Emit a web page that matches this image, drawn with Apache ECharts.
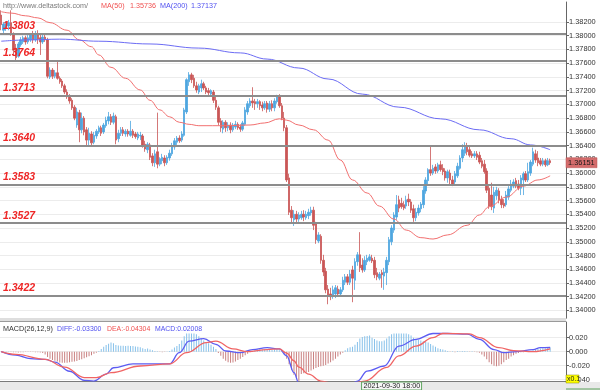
<!DOCTYPE html>
<html><head><meta charset="utf-8">
<script src="https://cdn.jsdelivr.net/npm/echarts@6/dist/echarts.min.js"></script>
<style>html,body{margin:0;padding:0;background:#fff}#c{width:600px;height:390px}</style>
</head><body><div id="c"></div><script>
// ---- data (hourly candles) : [open, close, low, high]
const candles = [
[1.3830,1.3816,1.3808,1.3837],[1.3808,1.3817,1.3804,1.3820],[1.3811,1.3817,1.3807,1.3821],[1.3814,1.3819,1.3808,1.3823],
[1.3819,1.3803,1.3800,1.3837],[1.3803,1.3779,1.3772,1.3805],[1.3782,1.3768,1.3762,1.3788],[1.3770,1.3788,1.3768,1.3791],
[1.3787,1.3794,1.3784,1.3798],[1.3791,1.3797,1.3788,1.3800],[1.3797,1.3791,1.3787,1.3800],[1.3791,1.3797,1.3788,1.3801],
[1.3794,1.3801,1.3791,1.3804],[1.3801,1.3794,1.3789,1.3807],[1.3794,1.3803,1.3791,1.3807],[1.3803,1.3795,1.3788,1.3808],
[1.3797,1.3791,1.3772,1.3801],[1.3791,1.3798,1.3788,1.3803],[1.3798,1.3794,1.3791,1.3803],[1.3794,1.3741,1.3738,1.3797],
[1.3740,1.3750,1.3737,1.3754],[1.3750,1.3741,1.3737,1.3753],[1.3741,1.3746,1.3738,1.3750],[1.3746,1.3738,1.3736,1.3762],
[1.3738,1.3733,1.3730,1.3741],[1.3734,1.3727,1.3724,1.3737],[1.3727,1.3718,1.3715,1.3730],[1.3718,1.3711,1.3708,1.3722],
[1.3712,1.3705,1.3701,1.3715],[1.3706,1.3695,1.3692,1.3709],[1.3696,1.3680,1.3677,1.3699],[1.3670,1.3689,1.3666,1.3695],
[1.3688,1.3663,1.3645,1.3692],[1.3663,1.3680,1.3658,1.3688],[1.3680,1.3660,1.3655,1.3683],[1.3663,1.3648,1.3638,1.3667],
[1.3648,1.3658,1.3641,1.3666],[1.3657,1.3644,1.3639,1.3661],[1.3645,1.3655,1.3642,1.3660],[1.3654,1.3661,1.3650,1.3664],
[1.3660,1.3666,1.3657,1.3669],[1.3666,1.3658,1.3654,1.3669],[1.3660,1.3670,1.3657,1.3673],[1.3669,1.3677,1.3666,1.3682],
[1.3676,1.3682,1.3671,1.3689],[1.3682,1.3674,1.3670,1.3686],[1.3674,1.3683,1.3671,1.3688],[1.3682,1.3648,1.3642,1.3685],
[1.3650,1.3658,1.3645,1.3663],[1.3658,1.3663,1.3654,1.3667],[1.3663,1.3658,1.3654,1.3667],[1.3657,1.3661,1.3653,1.3664],
[1.3661,1.3657,1.3653,1.3664],[1.3655,1.3661,1.3653,1.3676],[1.3661,1.3655,1.3651,1.3664],[1.3657,1.3653,1.3650,1.3660],
[1.3651,1.3657,1.3648,1.3660],[1.3654,1.3655,1.3648,1.3660],[1.3654,1.3641,1.3637,1.3657],[1.3642,1.3635,1.3631,1.3647],
[1.3634,1.3642,1.3629,1.3645],[1.3641,1.3623,1.3619,1.3644],[1.3625,1.3615,1.3610,1.3629],[1.3615,1.3628,1.3609,1.3634],
[1.3631,1.3613,1.3607,1.3688],[1.3613,1.3621,1.3610,1.3623],[1.3618,1.3623,1.3613,1.3628],[1.3622,1.3615,1.3610,1.3626],
[1.3615,1.3623,1.3612,1.3626],[1.3622,1.3629,1.3618,1.3634],[1.3628,1.3639,1.3625,1.3644],[1.3638,1.3647,1.3634,1.3651],
[1.3645,1.3651,1.3641,1.3654],[1.3651,1.3647,1.3644,1.3655],[1.3648,1.3657,1.3645,1.3661],[1.3655,1.3692,1.3653,1.3695],
[1.3689,1.3736,1.3686,1.3738],[1.3733,1.3743,1.3727,1.3747],[1.3743,1.3736,1.3731,1.3746],[1.3738,1.3727,1.3724,1.3743],
[1.3727,1.3721,1.3717,1.3733],[1.3718,1.3727,1.3715,1.3730],[1.3724,1.3730,1.3718,1.3736],[1.3730,1.3724,1.3721,1.3733],
[1.3724,1.3718,1.3715,1.3727],[1.3720,1.3717,1.3712,1.3724],[1.3715,1.3720,1.3712,1.3722],[1.3718,1.3706,1.3702,1.3721],
[1.3706,1.3696,1.3692,1.3711],[1.3695,1.3674,1.3669,1.3698],[1.3676,1.3666,1.3660,1.3680],[1.3664,1.3674,1.3658,1.3677],
[1.3674,1.3666,1.3660,1.3677],[1.3666,1.3670,1.3661,1.3674],[1.3670,1.3663,1.3658,1.3674],[1.3663,1.3670,1.3660,1.3673],
[1.3667,1.3671,1.3664,1.3676],[1.3671,1.3666,1.3663,1.3674],[1.3667,1.3664,1.3660,1.3671],[1.3664,1.3673,1.3661,1.3676],
[1.3671,1.3692,1.3669,1.3696],[1.3689,1.3701,1.3685,1.3705],[1.3698,1.3705,1.3695,1.3709],[1.3705,1.3702,1.3695,1.3725],
[1.3704,1.3701,1.3692,1.3708],[1.3701,1.3704,1.3695,1.3708],[1.3704,1.3698,1.3692,1.3706],[1.3699,1.3695,1.3690,1.3704],
[1.3695,1.3701,1.3692,1.3705],[1.3702,1.3693,1.3688,1.3705],[1.3693,1.3701,1.3689,1.3705],[1.3701,1.3695,1.3690,1.3706],
[1.3695,1.3705,1.3690,1.3709],[1.3704,1.3711,1.3701,1.3714],[1.3711,1.3698,1.3695,1.3715],[1.3698,1.3680,1.3677,1.3702],
[1.3680,1.3666,1.3661,1.3689],[1.3666,1.3590,1.3587,1.3670],[1.3593,1.3543,1.3539,1.3599],[1.3546,1.3535,1.3527,1.3552],
[1.3532,1.3540,1.3523,1.3546],[1.3540,1.3533,1.3526,1.3545],[1.3533,1.3539,1.3529,1.3543],[1.3535,1.3540,1.3532,1.3545],
[1.3540,1.3536,1.3530,1.3546],[1.3535,1.3540,1.3532,1.3545],[1.3538,1.3543,1.3533,1.3548],[1.3542,1.3546,1.3538,1.3551],
[1.3546,1.3524,1.3517,1.3551],[1.3526,1.3503,1.3497,1.3529],[1.3501,1.3510,1.3498,1.3514],[1.3508,1.3473,1.3468,1.3511],
[1.3473,1.3456,1.3450,1.3481],[1.3457,1.3430,1.3425,1.3462],[1.3431,1.3421,1.3409,1.3437],[1.3424,1.3420,1.3415,1.3433],
[1.3421,1.3430,1.3417,1.3436],[1.3424,1.3433,1.3418,1.3437],[1.3431,1.3424,1.3420,1.3436],[1.3424,1.3430,1.3420,1.3434],
[1.3430,1.3444,1.3427,1.3449],[1.3441,1.3449,1.3437,1.3453],[1.3449,1.3441,1.3437,1.3453],[1.3441,1.3453,1.3437,1.3459],
[1.3459,1.3447,1.3412,1.3465],[1.3444,1.3471,1.3430,1.3476],[1.3471,1.3481,1.3465,1.3485],[1.3481,1.3462,1.3456,1.3514],
[1.3466,1.3459,1.3455,1.3476],[1.3459,1.3473,1.3456,1.3479],[1.3471,1.3476,1.3466,1.3481],[1.3473,1.3478,1.3471,1.3482],
[1.3476,1.3472,1.3469,1.3481],[1.3473,1.3452,1.3447,1.3478],[1.3455,1.3449,1.3444,1.3462],[1.3447,1.3453,1.3444,1.3456],
[1.3455,1.3452,1.3433,1.3459],[1.3450,1.3456,1.3430,1.3462],[1.3455,1.3473,1.3437,1.3478],[1.3471,1.3503,1.3466,1.3507],
[1.3500,1.3520,1.3495,1.3524],[1.3517,1.3539,1.3513,1.3543],[1.3536,1.3554,1.3532,1.3568],[1.3561,1.3549,1.3543,1.3567],
[1.3556,1.3551,1.3548,1.3564],[1.3554,1.3549,1.3546,1.3559],[1.3552,1.3561,1.3548,1.3567],[1.3562,1.3558,1.3552,1.3570],
[1.3558,1.3546,1.3542,1.3562],[1.3548,1.3535,1.3529,1.3554],[1.3535,1.3543,1.3530,1.3549],[1.3542,1.3549,1.3538,1.3554],
[1.3548,1.3555,1.3543,1.3558],[1.3554,1.3575,1.3549,1.3581],[1.3574,1.3590,1.3570,1.3594],[1.3589,1.3605,1.3584,1.3607],
[1.3605,1.3600,1.3596,1.3638],[1.3600,1.3607,1.3597,1.3612],[1.3609,1.3603,1.3599,1.3613],[1.3603,1.3612,1.3600,1.3615],
[1.3612,1.3605,1.3602,1.3618],[1.3607,1.3602,1.3597,1.3613],[1.3603,1.3593,1.3589,1.3607],[1.3593,1.3602,1.3586,1.3605],
[1.3600,1.3590,1.3583,1.3605],[1.3590,1.3584,1.3581,1.3596],[1.3587,1.3599,1.3583,1.3603],[1.3596,1.3610,1.3593,1.3615],
[1.3607,1.3622,1.3605,1.3626],[1.3622,1.3634,1.3616,1.3642],[1.3629,1.3639,1.3625,1.3645],[1.3639,1.3631,1.3626,1.3644],
[1.3634,1.3626,1.3623,1.3638],[1.3628,1.3625,1.3622,1.3632],[1.3625,1.3628,1.3622,1.3632],[1.3628,1.3623,1.3619,1.3632],
[1.3626,1.3616,1.3613,1.3631],[1.3618,1.3610,1.3607,1.3622],[1.3613,1.3602,1.3599,1.3619],[1.3603,1.3575,1.3571,1.3607],
[1.3578,1.3552,1.3548,1.3583],[1.3568,1.3551,1.3546,1.3586],[1.3549,1.3572,1.3542,1.3580],[1.3567,1.3575,1.3561,1.3580],
[1.3574,1.3561,1.3556,1.3578],[1.3562,1.3554,1.3549,1.3567],[1.3556,1.3552,1.3549,1.3562],[1.3554,1.3568,1.3551,1.3574],
[1.3565,1.3577,1.3561,1.3581],[1.3575,1.3584,1.3572,1.3590],[1.3581,1.3587,1.3578,1.3591],[1.3589,1.3581,1.3578,1.3593],
[1.3584,1.3578,1.3575,1.3590],[1.3578,1.3593,1.3568,1.3597],[1.3590,1.3599,1.3568,1.3602],[1.3599,1.3590,1.3587,1.3603],
[1.3590,1.3602,1.3587,1.3615],[1.3600,1.3616,1.3596,1.3619],[1.3613,1.3631,1.3610,1.3637],[1.3628,1.3619,1.3615,1.3634],
[1.3622,1.3615,1.3610,1.3632],[1.3618,1.3613,1.3610,1.3622],[1.3613,1.3618,1.3610,1.3622],[1.3618,1.3612,1.3609,1.3621],
[1.3612,1.3618,1.3610,1.3622],[1.3618,1.36151,1.3612,1.3621]
];
// moving averages read at selected candles: [candle index, value]
const ma50Points = [[0,1.3835],[4,1.3833],[10,1.3829],[15,1.3826],[20,1.3819],[27,1.3808],[32,1.3794],[37,1.3784],[40,1.3772],[45,1.3754],[51,1.3738],[57,1.3721],[61,1.3706],[65,1.3692],[69,1.3682],[73,1.3674],[77,1.3671],[81,1.3669],[92,1.3669],[102,1.3670],[108,1.3673],[114,1.3679],[117,1.3677],[122,1.3670],[128,1.3663],[134,1.3648],[139,1.3619],[144,1.3590],[150,1.3571],[155,1.3552],[161,1.3533],[166,1.3517],[172,1.3506],[177,1.3504],[183,1.3510],[191,1.3524],[196,1.3539],[200,1.3551],[207,1.3565],[214,1.3581],[220,1.3590],[225,1.3596]];
const ma200Points = [[0,1.3792],[12,1.3794],[24,1.3795],[40,1.3792],[61,1.3788],[81,1.3782],[98,1.3775],[109,1.3766],[122,1.3753],[134,1.3737],[148,1.3715],[163,1.3696],[180,1.3679],[196,1.3663],[209,1.3650],[217,1.3641],[225,1.3634]];
// MACD histogram, one value per candle
const macdHist = [
0.0003,0.0002,0.0002,0.0001,-0.0005,-0.0008,-0.001,-0.0012,-0.001,-0.0008,-0.0006,-0.0005,-0.0005,-0.0006,-0.0008,-0.001,-0.0012,
-0.002,-0.004,-0.0075,-0.010,-0.012,-0.013,-0.014,-0.0155,-0.016,-0.0158,-0.0157,-0.015,-0.0145,-0.014,-0.0135,-0.012,-0.011,-0.0095,
-0.008,-0.0065,-0.005,-0.003,-0.0015,0.001,0.004,0.007,0.0095,0.0115,0.013,0.012,0.0095,0.009,0.0085,0.0085,0.008,0.0085,0.008,0.008,
0.0075,0.007,0.0065,0.005,0.004,0.0045,0.003,0.002,0.001,0.0005,-0.0005,-0.0008,-0.0005,0.0003,0.001,0.003,0.006,0.008,0.011,0.016,
0.022,0.026,0.026,0.026,0.026,0.025,0.022,0.019,0.016,0.014,0.012,0.010,0.007,0.004,-0.002,-0.006,-0.010,-0.013,-0.015,-0.016,-0.0155,
-0.014,-0.012,-0.010,-0.0075,-0.005,-0.003,-0.001,0.001,0.002,0.003,0.0035,0.003,0.003,0.0035,0.003,0.0025,0.003,0.003,0.002,0.0005,
-0.003,-0.010,-0.018,-0.026,-0.033,-0.038,-0.042,-0.032,-0.031,-0.030,-0.029,-0.027,-0.025,-0.0235,-0.022,-0.021,-0.020,-0.019,-0.017,
-0.015,-0.0125,-0.010,-0.007,-0.004,-0.0015,0.002,0.005,0.0065,0.007,0.010,0.014,0.019,0.021,0.022,0.0225,0.023,0.020,0.018,0.016,0.015,
0.015,0.016,0.019,0.022,0.025,0.026,0.026,0.026,0.026,0.026,0.026,0.025,0.023,0.020,0.018,0.017,0.016,0.015,0.014,0.013,0.011,0.009,
0.007,0.005,0.004,0.003,0.002,0.0008,-0.0005,0.0005,-0.0008,0.0008,0.0005,0.001,0.0008,0.0005,-0.0005,0.0005,-0.0005,-0.0008,-0.0015,
-0.004,-0.007,-0.011,-0.015,-0.018,-0.020,-0.021,-0.020,-0.018,-0.015,-0.012,-0.010,-0.007,-0.005,-0.003,-0.002,-0.001,-0.001,-0.0005,
0.0005,0.001,0.002,0.003,0.004,0.0045,0.005,0.005,0.0055,0.006
];
const diffPoints = [[0,0],[6,-0.005],[12,-0.010],[18,-0.011],[22,-0.015],[28,-0.028],[34,-0.041],[38,-0.042],[43,-0.032],[46,-0.023],[54,-0.0175],[64,-0.0175],[69,-0.0175],[73,-0.0015],[77,0.015],[83,0.0186],[88,0.0105],[92,0.001],[98,-0.0015],[103,0.003],[109,0.0057],[114,0.004],[117,-0.006],[120,-0.03],[122,-0.045],[126,-0.058],[134,-0.064],[141,-0.055],[146,-0.042],[150,-0.0277],[157,-0.0205],[163,0.008],[170,0.0176],[177,0.026],[183,0.026],[191,0.025],[196,0.0176],[202,0.003],[206,-0.0015],[211,0],[218,0.003],[221,0.0057],[225,0.006]];
const deaPoints = [[0,0],[6,-0.004],[18,-0.011],[26,-0.022],[34,-0.037],[39,-0.037],[45,-0.030],[57,-0.0205],[69,-0.0175],[76,-0.0015],[84,0.0128],[88,0.015],[95,0.004],[101,0],[109,0.003],[114,0.004],[117,-0.002],[120,-0.013],[122,-0.022],[126,-0.032],[131,-0.042],[140,-0.05],[149,-0.042],[158,-0.0225],[163,-0.006],[170,0.008],[177,0.020],[181,0.026],[192,0.0255],[196,0.020],[204,0.0057],[210,0.0015],[218,0],[225,0.004]];
const levels = [1.3803, 1.3764, 1.3713, 1.3640, 1.3583, 1.3527, 1.3422];
const priceTicks = [1.340,1.342,1.344,1.346,1.348,1.350,1.352,1.354,1.356,1.358,1.360,1.362,1.364,1.366,1.368,1.370,1.372,1.374,1.376,1.378,1.380,1.382];
const macdTicks = [-0.04,-0.02,0,0.02];
const lastPrice = 1.36151;
const timeLabel = '2021-09-30 18:00';
const timeLabelIndex = 160;
const slotCount = 232;
const headerTexts = { site: 'http://www.deltastock.com/', ma50: '1.35736', ma200: '1.37137' };
const macdTexts = { diff: '-0.03300', dea: '-0.04304', macd: '0.02008' };

const categories = Array.from({length: slotCount}, (_, i) => String(i));
const FONT = 'Liberation Sans, Arial, sans-serif';
const UP = '#4ea6df', DOWN = '#c95656';

const chart = echarts.init(document.getElementById('c'), null, {renderer: 'canvas'});
const option = {
  animation: false,
  backgroundColor: '#fff',
  grid: [
    {left: 0, right: 34, top: 2, height: 316},
    {left: 0, right: 34, top: 322, height: 59}
  ],
  xAxis: [
    {type: 'category', gridIndex: 0, data: categories, boundaryGap: true,
     axisLine: {show: true, lineStyle: {color: '#7a7a7a', width: 1}}, axisTick: {show: false}, axisLabel: {show: false}, splitLine: {show: false}},
    {type: 'category', gridIndex: 1, data: categories, boundaryGap: true,
     axisLine: {show: true, onZero: false, lineStyle: {color: '#7a7a7a', width: 1}}, axisTick: {show: false}, axisLabel: {show: false}, splitLine: {show: false}}
  ],
  yAxis: [
    {type: 'value', gridIndex: 0, position: 'right', min: 1.3389, max: 1.38491, scale: true,
     axisLine: {show: true, lineStyle: {color: '#666'}},
     axisTick: {show: true, length: 3, lineStyle: {color: '#666'}, customValues: priceTicks},
     axisLabel: {customValues: priceTicks, formatter: v => v.toFixed(5), fontSize: 7.4, color: '#333', margin: 3, fontFamily: FONT},
     splitLine: {show: true, lineStyle: {color: '#ececec', width: 1}}},
    {type: 'value', gridIndex: 1, position: 'right', min: -0.0419, max: 0.0424,
     axisLine: {show: true, lineStyle: {color: '#666'}},
     axisTick: {show: true, length: 3, lineStyle: {color: '#666'}, customValues: macdTicks},
     axisLabel: {customValues: macdTicks, formatter: v => v.toFixed(3), fontSize: 7.4, color: '#333', margin: 3, fontFamily: FONT},
     splitLine: {show: true, lineStyle: {color: '#ececec', width: 1}}}
  ],
  series: [
    {type: 'candlestick', xAxisIndex: 0, yAxisIndex: 0, data: candles, barWidth: 2,
     itemStyle: {color: UP, color0: DOWN, borderColor: UP, borderColor0: DOWN, borderWidth: 0.8},
     markLine: {silent: true, symbol: ['none', 'none'], animation: false, precision: 4,
       lineStyle: {color: '#8c8c8c', width: 2, type: 'solid'},
       label: {show: true, position: 'insideStartTop', distance: [3, 2], formatter: p => Number(p.value).toFixed(4),
         color: '#ee2626', fontStyle: 'italic', fontWeight: 'bold', fontSize: 10.5, fontFamily: FONT},
       data: levels.map(v => ({yAxis: v}))}},
    {type: 'line', name: 'MA50', xAxisIndex: 0, yAxisIndex: 0, data: ma50Points, smooth: 0.4, smoothMonotone: 'x',
     showSymbol: false, lineStyle: {color: '#f27070', width: 1}, z: 3},
    {type: 'line', name: 'MA200', xAxisIndex: 0, yAxisIndex: 0, data: ma200Points, smooth: 0.4, smoothMonotone: 'x',
     showSymbol: false, lineStyle: {color: '#6c6cf4', width: 1}, z: 3},
    {type: 'bar', xAxisIndex: 1, yAxisIndex: 1, barWidth: 1,
     data: macdHist.map(v => ({value: v, itemStyle: {color: v >= 0 ? '#86c1ea' : '#c98080'}}))},
    {type: 'line', name: 'DIFF', xAxisIndex: 1, yAxisIndex: 1, data: diffPoints, smooth: 0.4, smoothMonotone: 'x',
     showSymbol: false, clip: true, lineStyle: {color: '#5c5cf2', width: 1.3}, z: 4},
    {type: 'line', name: 'DEA', xAxisIndex: 1, yAxisIndex: 1, data: deaPoints, smooth: 0.4, smoothMonotone: 'x',
     showSymbol: false, clip: true, lineStyle: {color: '#f06464', width: 1.3}, z: 4}
  ]
};
chart.setOption(option);

const py = chart.convertToPixel({yAxisIndex: 0}, lastPrice);
const tx = chart.convertToPixel({xAxisIndex: 1}, timeLabelIndex);
const t = (x, y, text, fill, z, size) => ({type: 'text', x: x, y: y, z: z || 50,
  style: {text: text, fill: fill, font: (size || 7.2) + 'px ' + FONT, textVerticalAlign: 'middle'}});
chart.setOption({graphic: [
  // pane separators
  {type: 'rect', z: 40, shape: {x: 0, y: 318, width: 566, height: 3}, style: {fill: '#dedede'}},
  {type: 'line', z: 41, shape: {x1: 0, y1: 321.5, x2: 566, y2: 321.5}, style: {stroke: '#9a9a9a', lineWidth: 1}},
  {type: 'rect', z: 40, shape: {x: 0, y: 382, width: 600, height: 8}, style: {fill: '#e9e9e9'}},
  // header
  t(3, 6, headerTexts.site, '#7a7a7a'),
  t(101, 6, 'MA(50)', '#f05050'), t(130, 6, headerTexts.ma50, '#f05050'),
  t(160, 6, 'MA(200)', '#5050f0'), t(191, 6, headerTexts.ma200, '#5050f0'),
  // MACD header
  t(3, 329, 'MACD(26,12,9)', '#333'),
  t(57, 329, 'DIFF:' + macdTexts.diff, '#5050f0', 50, 6.9),
  t(107, 329, 'DEA:' + macdTexts.dea, '#f05050', 50, 6.9),
  t(155, 329, 'MACD:' + macdTexts.macd, '#5050f0', 50, 6.9),
  // last price tag
  {type: 'rect', z: 60, shape: {x: 566, y: py - 5, width: 31, height: 10}, style: {fill: '#d46c6c', stroke: '#b85050', lineWidth: 0.5}},
  t(568, py, lastPrice.toFixed(5), '#1a1a1a', 61, 7.4),
  // time label box
  {type: 'rect', z: 60, shape: {x: tx - 30, y: 382, width: 60, height: 8}, style: {fill: '#f6f6f6', stroke: '#62a862', lineWidth: 1}},
  t(tx - 28, 386.5, timeLabel, '#222', 61, 7.2),
  // scale tag
  {type: 'rect', z: 60, shape: {x: 566, y: 375, width: 13, height: 8}, style: {fill: '#ffff00', stroke: '#8a8a00', lineWidth: 0.5}},
  t(567, 379, 'x0.1', '#222', 61, 7),
  {type: 'line', z: 60, shape: {x1: 566, y1: 389, x2: 600, y2: 389}, style: {stroke: '#5aa05a', lineWidth: 1}}
]});
</script></body></html>
